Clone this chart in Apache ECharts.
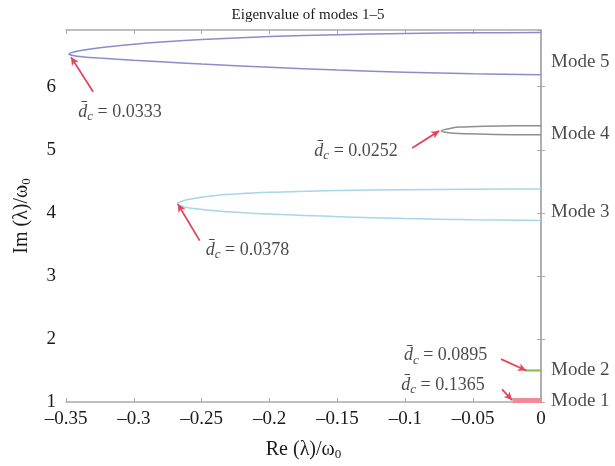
<!DOCTYPE html>
<html>
<head>
<meta charset="utf-8">
<script src="https://cdn.jsdelivr.net/npm/echarts@6/dist/echarts.min.js"></script>
<style>
  html, body { margin: 0; padding: 0; background: #fff; }
  #main { width: 615px; height: 466px; }
</style>
</head>
<body>
<div id="main"></div>
<script>
// eigenvalue paths [Re, Im], traced from right end -> vertex -> right end
var mode5 = [[0,6.86],[-0.05,6.855],[-0.1,6.845],[-0.15,6.825],[-0.2,6.795],[-0.25,6.75],[-0.28,6.71],[-0.3,6.675],[-0.325,6.62],[-0.34,6.57],[-0.348,6.52],[-0.342,6.485],[-0.325,6.455],[-0.3,6.42],[-0.28,6.395],[-0.25,6.36],[-0.2,6.31],[-0.15,6.265],[-0.1,6.23],[-0.05,6.205],[0,6.19]];
var mode4 = [[0,5.38],[-0.02,5.38],[-0.04,5.375],[-0.06,5.36],[-0.068,5.335],[-0.0735,5.3],[-0.068,5.272],[-0.06,5.258],[-0.04,5.246],[-0.02,5.24],[0,5.24]];
var mode3 = [[0,4.38],[-0.05,4.375],[-0.1,4.368],[-0.15,4.355],[-0.2,4.325],[-0.24,4.275],[-0.26,4.21],[-0.268,4.14],[-0.262,4.09],[-0.24,4.035],[-0.2,3.98],[-0.15,3.94],[-0.1,3.91],[-0.05,3.89],[0,3.88]];
var mode2 = [[-0.012,1.5],[0,1.5]];
var mode1 = [[-0.021,1.025],[0,1.025]];

var modeNames = ['Mode 5', 'Mode 4', 'Mode 3', 'Mode 2', 'Mode 1'];
var modeLabelY = [6.39, 5.25, 4.02, 1.5, 1.02];

// critical damping annotations
var dcValues = ['0.0333', '0.0252', '0.0378', '0.0895', '0.1365'];
var dcLabelPos = [[-0.341, 5.6], [-0.167, 4.98], [-0.247, 3.41], [-0.101, 1.74], [-0.103, 1.27]];
var arrowTail = [[-0.330, 5.92], [-0.0949, 5.03], [-0.2515, 3.56], [-0.0294, 1.68], [-0.0287, 1.2]];
var arrowHead = [[-0.3463, 6.47], [-0.075, 5.3], [-0.2676, 4.14], [-0.011, 1.5], [-0.0213, 1.03]];

var serif = 'Liberation Serif';
var chart = echarts.init(document.getElementById('main'));

function fmtX(v) {
  var r = Math.round(v * 100) / 100;
  if (r === 0) return '0';
  return '\u2013' + Math.abs(r);
}

var richText = {
  i: { fontFamily: serif, fontStyle: 'italic', fontSize: 18, color: '#1a1a1a' },
  s: { fontFamily: serif, fontStyle: 'italic', fontSize: 13, color: '#1a1a1a', padding: [10, 0, 0, 0] },
  n: { fontFamily: serif, fontSize: 18, color: '#1a1a1a' }
};
var nameRich = { s: { fontFamily: serif, fontSize: 13, color: '#1a1a1a', padding: [10, 0, 0, 0] } };

var lineBase = { type: 'line', showSymbol: false, symbol: 'none', smooth: 0.3, animation: false, z: 3 };

var option = {
  animation: false,
  title: {
    text: 'Eigenvalue of modes 1\u20135',
    left: 303, top: 3, textAlign: 'center',
    textStyle: { fontFamily: serif, fontSize: 15, fontWeight: 'normal', color: '#1a1a1a' }
  },
  grid: { left: 66, right: 74, top: 30, bottom: 61 },
  xAxis: [{
    type: 'value', min: -0.35, max: 0, interval: 0.05, position: 'bottom',
    axisLine: { lineStyle: { color: '#aaa', width: 1.5 } },
    axisTick: { inside: true, length: 4, lineStyle: { color: '#aaa' } },
    splitLine: { show: false },
    axisLabel: { fontFamily: serif, fontSize: 19, color: '#1a1a1a', margin: 8, formatter: fmtX },
    name: 'Re (\u03bb)/\u03c9{s|0}', nameLocation: 'middle', nameGap: 36,
    nameTextStyle: { fontFamily: serif, fontSize: 20, color: '#1a1a1a', rich: nameRich }
  }, {
    type: 'value', min: -0.35, max: 0, interval: 0.05, position: 'top',
    axisLine: { lineStyle: { color: '#aaa', width: 1.5 } },
    axisTick: { inside: true, length: 4, lineStyle: { color: '#aaa' } },
    axisLabel: { show: false }, splitLine: { show: false }
  }],
  yAxis: [{
    type: 'value', min: 1, max: 6.9, interval: 1, position: 'left',
    axisLine: { show: true, lineStyle: { color: '#aaa', width: 1.5 } },
    axisTick: { show: true, inside: true, length: 4, lineStyle: { color: '#aaa' } },
    splitLine: { show: false },
    axisLabel: { fontFamily: serif, fontSize: 19, color: '#1a1a1a', margin: 10, showMaxLabel: false },
    name: 'Im (\u03bb)/\u03c9{s|0}', nameLocation: 'middle', nameGap: 33, nameRotate: 90,
    nameTextStyle: { fontFamily: serif, fontSize: 20, color: '#1a1a1a', rich: nameRich }
  }, {
    type: 'value', min: 1, max: 6.9, interval: 1, position: 'right',
    axisLine: { show: true, lineStyle: { color: '#aaa', width: 1.5 } },
    axisTick: { show: true, inside: true, length: 4, lineStyle: { color: '#aaa' } },
    axisLabel: { show: false }, splitLine: { show: false }
  }],
  series: [
    Object.assign({}, lineBase, { name: 'Mode 5', data: mode5, lineStyle: { color: '#8a8dcc', width: 1.5 } }),
    Object.assign({}, lineBase, { name: 'Mode 4', data: mode4, lineStyle: { color: '#8e8e8e', width: 1.5 } }),
    Object.assign({}, lineBase, { name: 'Mode 3', data: mode3, lineStyle: { color: '#a6d6e8', width: 1.5 } }),
    Object.assign({}, lineBase, { name: 'Mode 2', data: mode2, smooth: false, lineStyle: { color: '#86c24c', width: 2.2 } }),
    Object.assign({}, lineBase, { name: 'Mode 1', data: mode1, smooth: false, lineStyle: { color: '#f0899a', width: 5 } }),
    {
      // arrows
      type: 'line', data: [], animation: false, z: 5,
      markLine: {
        silent: true, animation: false,
        symbol: ['none', 'arrow'], symbolSize: [6, 8],
        lineStyle: { color: '#e2455c', width: 1.8, type: 'solid' },
        label: { show: false },
        data: arrowTail.map(function (t, i) {
          return [{ coord: t }, { coord: arrowHead[i] }];
        })
      }
    },
    {
      // d_c labels
      type: 'scatter', symbolSize: 0, animation: false, silent: true, z: 6,
      data: dcLabelPos,
      label: {
        show: true, position: 'inside', align: 'left', verticalAlign: 'middle',
        formatter: function (p) { return '{i|d\u0304}{s|c}{n| = ' + dcValues[p.dataIndex] + '}'; },
        rich: richText
      }
    },
    {
      // mode labels outside the frame
      type: 'scatter', symbolSize: 0, animation: false, silent: true, z: 6,
      data: modeLabelY.map(function (y) { return [0, y]; }),
      label: {
        show: true, position: 'right', distance: 10,
        fontFamily: serif, fontSize: 19, color: '#1a1a1a',
        formatter: function (p) { return modeNames[p.dataIndex]; }
      }
    }
  ]
};
chart.setOption(option);
</script>
</body>
</html>
